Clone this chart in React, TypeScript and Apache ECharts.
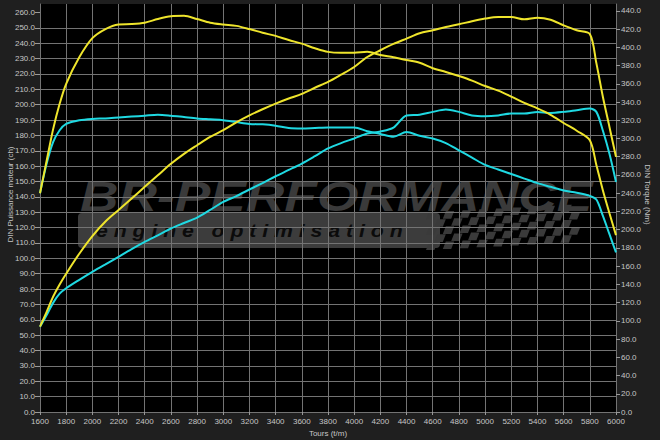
import React, { useEffect, useRef } from "react";
import * as echarts from "echarts";

// Engine speed (t/m)
const rpm = [
  1600, 1650, 1700, 1750, 1800, 1900, 2000, 2100, 2200, 2300, 2400, 2500, 2600, 2700, 2800, 2900,
  3000, 3100, 3200, 3300, 3400, 3500, 3600, 3700, 3800, 3900, 4000, 4100, 4200, 4300, 4400, 4500,
  4600, 4700, 4800, 4900, 5000, 5100, 5200, 5300, 5400, 5500, 5600, 5700, 5800, 5850, 5900, 5950, 6000,
];

// Tuned torque (Nm) - yellow, right axis
const torqueTuned = [
  240, 275, 310, 338, 360, 389, 410, 420, 425, 425.5, 427, 431, 434, 434.5, 431, 427,
  425, 423.5, 420, 416, 412.5, 408, 404, 399, 395, 394, 394, 395, 391.5, 389, 386, 383,
  377, 373, 368.5, 363.5, 357.5, 352.5, 346, 339, 333, 326, 317, 308.5, 298, 271, 243, 218, 194,
];

// Stock torque (Nm) - cyan, right axis
const torqueStock = [
  240, 272, 296, 309, 316, 320, 321.5, 322, 323, 324, 325, 326, 325, 323.5, 322, 321,
  320, 318, 316, 315.5, 314, 311.5, 311, 311.5, 312, 312, 312, 308, 305, 302, 307, 303,
  300, 295, 287, 279, 271, 266, 261, 256, 251, 247, 243, 240.5, 237, 233, 215, 195, 175,
];

// Tuned power (ch) - yellow, left axis
const powerTuned = [
  55.5, 65, 75, 83, 90, 103, 114.5, 124, 131.5, 139, 146.5, 154, 161.5, 168, 173.6, 179,
  183.4, 188.5, 193, 197, 200.7, 204, 207, 211, 214.8, 219.5, 224.5, 231, 235.4, 239.5, 243, 246.5,
  248.4, 250.5, 252.3, 254.3, 256, 257, 257, 255.5, 256.6, 255.3, 251.6, 248.4, 246, 227, 205, 185.5, 166,
];

// Stock power (ch) - cyan, left axis
const powerStock = [
  55.5, 63, 71, 77, 80.5, 86, 91.2, 96, 101, 106, 110.7, 115, 119.4, 123, 126.5, 131.5,
  136.7, 140.5, 144.8, 149, 153.4, 157.5, 161.7, 166.5, 171.5, 175, 178, 181.2, 182.5, 185, 193, 193.5,
  195.3, 196.8, 195.3, 193, 192.5, 193, 194.2, 194.2, 195.3, 194.6, 195.3, 196.4, 197.5, 195.3, 183, 168, 149.7,
];

// Tick labels
const powerTicks = [
  0, 10, 20, 30, 40, 50, 60, 70, 80, 90, 100, 110, 120, 130, 140, 150, 160, 170, 180, 190, 200,
  210, 220, 230, 240, 250, 260,
];
const torqueTicks = [
  0, 20, 40, 60, 80, 100, 120, 140, 160, 180, 200, 220, 240, 260, 280, 300, 320, 340, 360, 380,
  400, 420, 440,
];
const rpmTicks = [
  1600, 1800, 2000, 2200, 2400, 2600, 2800, 3000, 3200, 3400, 3600, 3800, 4000, 4200, 4400, 4600,
  4800, 5000, 5200, 5400, 5600, 5800, 6000,
];

const xTitle = "Tours (t/m)";
const leftTitle = "DIN Puissance moteur (ch)";
const rightTitle = "DIN Torque (Nm)";

const YELLOW = "#efe52c";
const CYAN = "#1fd9e2";
const GRID = "#737373";
const LABEL = "#c6c6c6";
const FONT = "'Liberation Sans', Arial, sans-serif";

function buildFlag() {
  const cells: any[] = [];
  const cw = 8.4;
  const ch = 7.6;
  for (let i = 0; i < 18; i++) {
    for (let j = 0; j < 5; j++) {
      if ((i + j) % 2 !== 0) continue;
      const x0 = 426 + i * cw;
      const y0 = 212 + j * ch - i * 0.45;
      const sk = 3;
      cells.push({
        type: "polygon",
        z: -5,
        silent: true,
        shape: {
          points: [
            [x0 + sk, y0],
            [x0 + cw + sk, y0],
            [x0 + cw, y0 + ch],
            [x0, y0 + ch],
          ],
        },
        style: { fill: "#3a3a3a" },
      });
    }
  }
  return cells;
}

export default function App() {
  const ref = useRef<HTMLDivElement>(null);

  useEffect(() => {
    if (!ref.current) return;
    const chart = echarts.init(ref.current, null, { renderer: "svg" });

    const mk = (vals: number[]) => rpm.map((r, i) => [r, vals[i]]);
    const lineSeries = (name: string, vals: number[], axis: number, color: string) => ({
      name,
      type: "line",
      yAxisIndex: axis,
      data: mk(vals),
      showSymbol: false,
      smooth: 0.3,
      lineStyle: { color, width: 2 },
      itemStyle: { color },
      z: 3,
    });

    const option: any = {
      animation: false,
      backgroundColor: "#1f1f1f",
      textStyle: { fontFamily: FONT },
      grid: {
        show: true,
        backgroundColor: "#000000",
        borderWidth: 0,
        left: 40,
        right: 44,
        top: 4,
        bottom: 28,
        containLabel: false,
        outerBoundsMode: "none",
        z: -10,
      },
      xAxis: {
        type: "value",
        min: 1600,
        max: 6000,
        interval: 200,
        axisLine: { show: true, lineStyle: { color: GRID } },
        axisTick: { show: true, length: 3, customValues: rpmTicks, lineStyle: { color: "#999" } },
        axisLabel: {
          color: LABEL,
          fontSize: 8,
          margin: 5,
          fontFamily: FONT,
          customValues: rpmTicks,
          formatter: (v: number) => String(v),
        },
        splitLine: { show: true, lineStyle: { color: GRID, width: 1 } },
      },
      yAxis: [
        {
          type: "value",
          position: "left",
          min: 0,
          max: 265.5,
          interval: 10,
          axisLine: { show: true, lineStyle: { color: GRID } },
          axisTick: { show: true, length: 5, customValues: powerTicks, lineStyle: { color: "#999" } },
          axisLabel: {
            color: LABEL,
            fontSize: 8,
            margin: 5,
            fontFamily: FONT,
            customValues: powerTicks,
            formatter: (v: number) => v.toFixed(1),
          },
          splitLine: { show: true, showMaxLine: false, lineStyle: { color: GRID, width: 1 } },
        },
        {
          type: "value",
          position: "right",
          min: 0,
          max: 447.5,
          interval: 20,
          axisLine: { show: true, lineStyle: { color: GRID } },
          axisTick: { show: true, length: 4, customValues: torqueTicks, lineStyle: { color: "#999" } },
          axisLabel: {
            color: LABEL,
            fontSize: 8,
            margin: 5,
            fontFamily: FONT,
            customValues: torqueTicks,
            formatter: (v: number) => v.toFixed(1),
          },
          splitLine: { show: false },
        },
      ],
      graphic: [
        {
          type: "rect",
          z: -5,
          silent: true,
          shape: { x: 78, y: 213, width: 362, height: 35, r: 4 },
          style: { fill: "#3c3c3c" },
        },
        ...buildFlag(),
        {
          type: "text",
          z: -4,
          silent: true,
          x: 80,
          y: 196,
          scaleX: 1.24,
          style: {
            text: "BR-PERFORMANCE",
            font: "italic 900 43px 'Liberation Sans', Arial, sans-serif",
            fill: "#3a3a3a",
            textAlign: "left",
            textVerticalAlign: "middle",
          },
        },
        {
          type: "text",
          z: -4,
          silent: true,
          x: 96,
          y: 231,
          scaleX: 1.18,
          style: {
            text: "e n g i n e   o p t i m i s a t i o n",
            font: "italic bold 18px 'Liberation Sans', Arial, sans-serif",
            fill: "#0b0b0b",
            textAlign: "left",
            textVerticalAlign: "middle",
          },
        },
        {
          type: "text",
          silent: true,
          x: 328,
          y: 433,
          style: {
            text: xTitle,
            font: "8px 'Liberation Sans', Arial, sans-serif",
            fill: LABEL,
            textAlign: "center",
            textVerticalAlign: "middle",
          },
        },
        {
          type: "text",
          silent: true,
          x: 10,
          y: 194.5,
          rotation: Math.PI / 2,
          style: {
            text: leftTitle,
            font: "8px 'Liberation Sans', Arial, sans-serif",
            fill: LABEL,
            textAlign: "center",
            textVerticalAlign: "middle",
          },
        },
        {
          type: "text",
          silent: true,
          x: 647.5,
          y: 194.5,
          rotation: -Math.PI / 2,
          style: {
            text: rightTitle,
            font: "8px 'Liberation Sans', Arial, sans-serif",
            fill: LABEL,
            textAlign: "center",
            textVerticalAlign: "middle",
          },
        },
      ],
      series: [
        lineSeries("Couple origine", torqueStock, 1, CYAN),
        lineSeries("Puissance origine", powerStock, 0, CYAN),
        lineSeries("Couple optimisé", torqueTuned, 1, YELLOW),
        lineSeries("Puissance optimisée", powerTuned, 0, YELLOW),
      ],
    };

    chart.setOption(option);
    return () => chart.dispose();
  }, []);

  return (
    <div
      ref={ref}
      style={{ position: "fixed", left: 0, top: 0, width: 660, height: 440 }}
    />
  );
}
